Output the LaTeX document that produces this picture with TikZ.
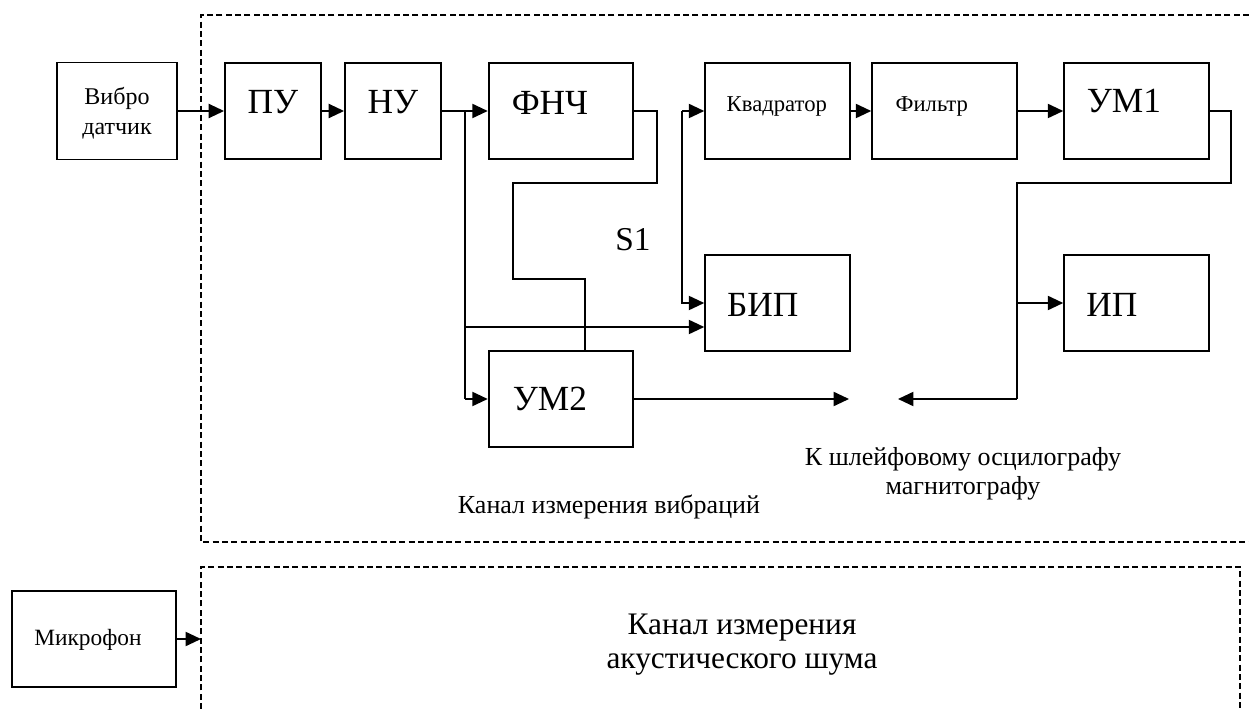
\documentclass[tikz,border=0pt]{standalone}
\usepackage{fontspec}
\setmainfont{Liberation Serif}
\usetikzlibrary{arrows.meta}
\tikzset{
  box/.style={draw, line width=1.4pt, inner sep=0pt, minimum height=72pt},
  small/.style={box, minimum width=72pt},
  wide/.style={box, minimum width=108.5pt},
  big/.style={font=\fontsize{26.5}{28}\selectfont, inner sep=0pt},
  mid/.style={font=\fontsize{17}{19}\selectfont, inner sep=0pt},
  conn/.style={line width=1.4pt},
  arr/.style={conn, -{Triangle[length=11.5pt,width=10.5pt]}},
  frame/.style={line width=1.1pt, dash pattern=on 4.5pt off 2.5pt},
  note/.style={font=\fontsize{19.5}{21.75}\selectfont, align=center, inner sep=0pt}
}
\begin{document}
\begin{tikzpicture}[x=0.75pt,y=-0.75pt]
\useasboundingbox (0,0) rectangle (1249,709);
% dashed frames
\draw[frame] (1249,15) -- (201,15) -- (201,542) -- (1249,542);
\draw[frame] (201,709) -- (201,567) -- (1240,567) -- (1240,709);

% blocks
\node[box, minimum width=90pt, minimum height=72.75pt,
  label={[note, font=\fontsize{18}{22.5}\selectfont, yshift=-1.9pt]center:Вибро\\датчик}] (vib) at (117,111) {};
\node[small, label={[big, yshift=6.75pt]center:ПУ}] (pu) at (273,111) {};
\node[small, label={[big, yshift=6.75pt]center:НУ}] (nu) at (393,111) {};
\node[wide, label={[big, xshift=-8.25pt, yshift=6pt]center:ФНЧ}] (fnch) at (561,111) {};
\node[wide, label={[mid, xshift=-0.5pt, yshift=3.4pt]center:Квадратор}] (kv) at (777.5,111) {};
\node[wide, label={[mid, xshift=-9.5pt, yshift=3.4pt]center:Фильтр}] (fil) at (944.5,111) {};
\node[wide, label={[big, xshift=-9.4pt, yshift=7.5pt]center:УМ1}] (um1) at (1136.5,111) {};
\node[wide, label={[big, xshift=-11pt, yshift=-1.5pt]center:БИП}] (bip) at (777.5,303) {};
\node[wide, label={[big, xshift=-18.4pt, yshift=-1.5pt]center:ИП}] (ip) at (1136.5,303) {};
\node[wide, label={[big, xshift=-8.25pt]center:УМ2}] (um2) at (561,399) {};
\node[box, minimum width=123pt,
  label={[mid, font=\fontsize{17.5}{19}\selectfont, xshift=-4.5pt, yshift=-0.5pt]center:Микрофон}] (mic) at (94,639) {};

% free texts
\node[big, font=\fontsize{25}{28}\selectfont] (s1) at (633,240) {S1};
\node[note] (osc) at (963,474) {К шлейфовому осцилографу\\магнитографу};
\node[note] (kvib) at (609,507) {Канал измерения вибраций};
\node[note, font=\fontsize{23.5}{25.5}\selectfont] (kac) at (742,645) {Канал измерения\\акустического шума};

% helper coordinates
\coordinate (b1) at (465,111);
\coordinate (b2) at (465,327);
\coordinate (b3) at (465,399);
\coordinate (f1) at (657,111);
\coordinate (f2) at (657,183);
\coordinate (f3) at (513,183);
\coordinate (f4) at (513,279);
\coordinate (f5) at (585,279);
\coordinate (q1) at (682,111);
\coordinate (q2) at (682,303);
\coordinate (u1) at (1231,111);
\coordinate (u2) at (1231,183);
\coordinate (u3) at (1017,183);
\coordinate (u4) at (1017,303);
\coordinate (u5) at (1017,399);
\coordinate (o1) at (849,399);
\coordinate (o2) at (898,399);
\coordinate (m1) at (201,639);

% connectors
\draw[arr] (vib.east) -- (pu.west);
\draw[arr] (pu.east) -- (nu.west);
\draw[arr] (nu.east) -- (fnch.west);
\draw[conn] (b1) -- (b3);
\draw[arr] (b3) -- (um2.west |- b3);
\draw[arr] (b2) -- (bip.west |- b2);
\draw[conn] (fnch.east) -- (f1) -- (f2) -- (f3) -- (f4) -- (f5) -- (f5 |- um2.north);
\draw[arr] (q1) -- (kv.west);
\draw[arr] (q1) -- (q2) -- (bip.west |- q2);
\draw[arr] (kv.east) -- (fil.west);
\draw[arr] (fil.east) -- (um1.west);
\draw[conn] (um1.east) -- (u1) -- (u2) -- (u3) -- (u5);
\draw[arr] (u5) -- (o2);
\draw[arr] (u4) -- (ip.west |- u4);
\draw[arr] (um2.east |- o1) -- (o1);
\draw[arr] (mic.east |- m1) -- (m1);
\end{tikzpicture}
\end{document}
